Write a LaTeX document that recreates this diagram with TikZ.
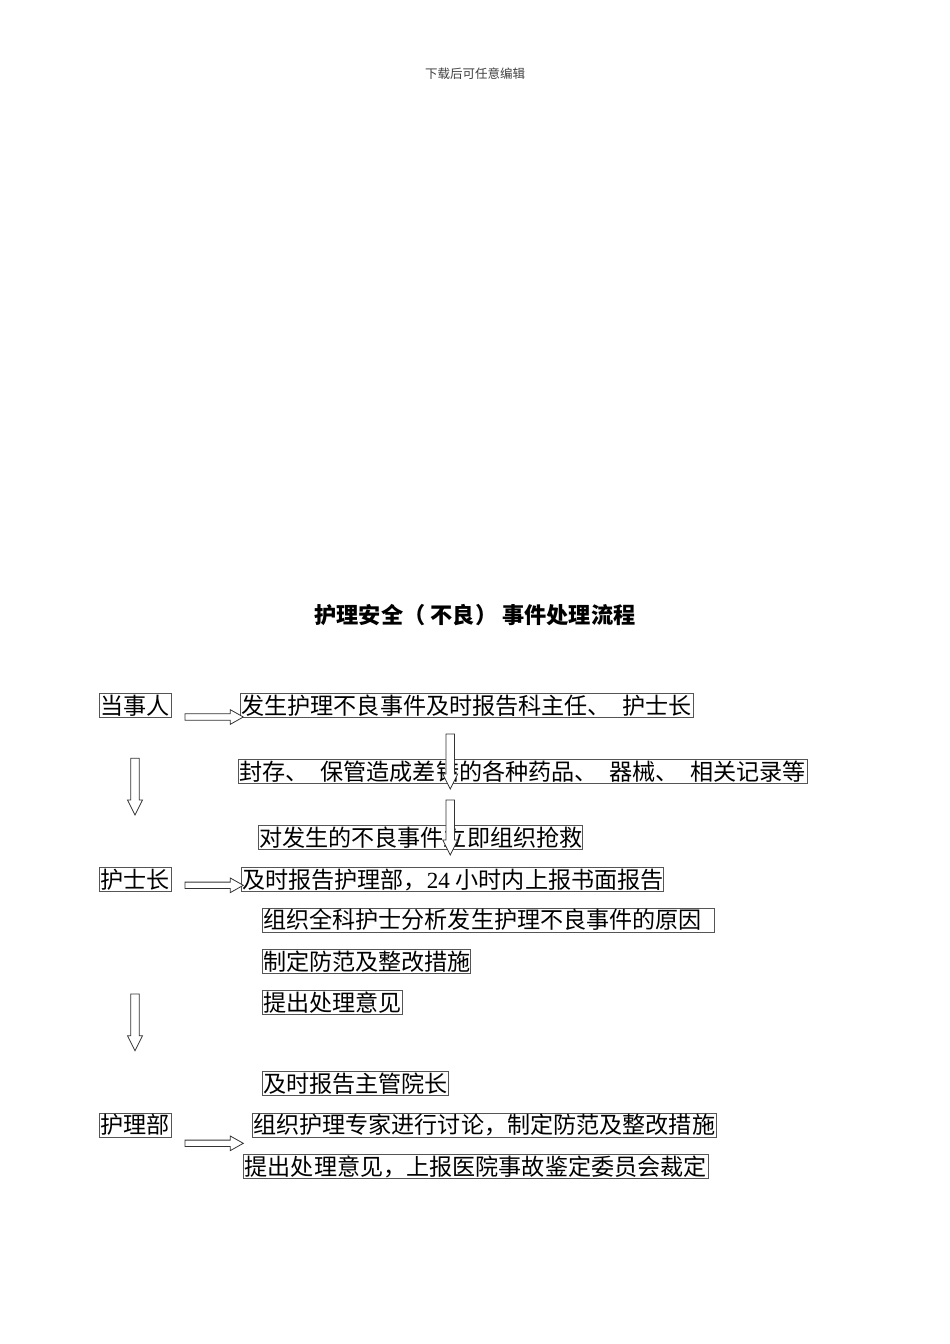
\documentclass[tikz,border=0pt]{standalone}
\usepackage{fontspec}
\newfontfamily\cjk{Noto Sans CJK SC}
\newfontfamily\lat{Liberation Serif}
\usetikzlibrary{calc}
\definecolor{boxgray}{HTML}{555555}
\definecolor{arrgray}{HTML}{333333}
\newcommand\bxt[2]{\makebox[#1pt][l]{#2}}
% horizontal block arrow: #1 start coord, #2 tip coord
\newcommand\harr[2]{%
  \draw[barrow] let \p1=(#1), \p2=(#2) in
    (\x1,\y1+3.2pt) -- (\x2-13pt,\y1+3.2pt) -- (\x2-13pt,\y1+7.3pt) -- (\x2,\y1)
    -- (\x2-13pt,\y1-7.3pt) -- (\x2-13pt,\y1-3.2pt) -- (\x1,\y1-3.2pt) -- cycle;}
% vertical block arrow: #1 top coord, #2 tip coord
\newcommand\varr[2]{%
  \draw[barrow] let \p1=(#1), \p2=(#2) in
    (\x1-4.3pt,\y1) -- (\x1-4.3pt,\y2+15pt) -- (\x1-7.5pt,\y2+15pt) -- (\x1,\y2)
    -- (\x1+7.5pt,\y2+15pt) -- (\x1+4.3pt,\y2+15pt) -- (\x1+4.3pt,\y1) -- cycle;}
\begin{document}
\begin{tikzpicture}[x=1pt,y=-1pt,
  box/.style={draw=boxgray, line width=0.8pt, anchor=north west,
    inner xsep=1pt, inner ysep=0pt, minimum height=24pt,
    text height=20.3pt, text depth=2.8pt,
    font=\cjk\fontsize{23.1}{23.1}\selectfont},
  barrow/.style={draw=arrgray, line width=0.8pt, fill=white, line join=miter}]
\fill[white] (0,0) rectangle (950,1344);
\useasboundingbox (0,0) rectangle (950,1344);

\node[text=black!75, font=\cjk\fontsize{12.5}{12.5}\selectfont] (hdr) at (475,74) {下载后可任意编辑};
\node[font=\cjk\bfseries\fontsize{22.2}{22.2}\selectfont] (title) at (475,615) {护理安全（ 不良） 事件处理流程};

\node[box] (n1) at (99.3,693.3) {\bxt{69.4}{当事人}};
\node[box] (n2) at (240,693.3) {\bxt{450.7}{发生护理不良事件及时报告科主任、\hspace{0.5em}护士长}};
\node[box] (n3) at (238.3,759.3) {\bxt{566.4}{封存、\hspace{0.5em}保管造成差错的各种药品、\hspace{0.5em}器械、\hspace{0.5em}相关记录等}};
\node[box] (n4) at (257.7,825) {\bxt{322.6}{对发生的不良事件立即组织抢救}};
\node[box] (n5) at (99.3,867.3) {\bxt{69.4}{护士长}};
\node[box] (n6) at (240.7,867.3) {\bxt{420}{及时报告护理部，{\lat 24 }小时内上报书面报告}};
\node[box] (n7) at (261.7,907.7) {\bxt{450.3}{组织全科护士分析发生护理不良事件的原因}};
\node[box] (n8) at (261.7,949.3) {\bxt{206.3}{制定防范及整改措施}};
\node[box] (n9) at (261.7,990) {\bxt{138}{提出处理意见}};
\node[box] (n10) at (261.7,1071) {\bxt{184.6}{及时报告主管院长}};
\node[box] (n11) at (99.3,1112.7) {\bxt{69.4}{护理部}};
\node[box] (n12) at (251.7,1112.7) {\bxt{462.3}{组织护理专家进行讨论，制定防范及整改措施}};
\node[box] (n13) at (243.3,1154) {\bxt{462.7}{提出处理意见，上报医院事故鉴定委员会裁定}};

% arrow end points
\coordinate (h1a) at (185,717);    \coordinate (h1b) at (243.3,717);
\coordinate (h2a) at (185,885.3);  \coordinate (h2b) at (243.3,885.3);
\coordinate (h3a) at (185,1143.3); \coordinate (h3b) at (243.3,1143.3);
\coordinate (v1a) at (135,758.3);  \coordinate (v1b) at (135,815);
\coordinate (v2a) at (135,994);    \coordinate (v2b) at (135,1050.7);
\coordinate (v3a) at (450.2,734);  \coordinate (v3b) at (450.2,789);
\coordinate (v4a) at (450.2,800);  \coordinate (v4b) at (450.2,855);

\harr{h1a}{h1b}
\harr{h2a}{h2b}
\harr{h3a}{h3b}
\varr{v1a}{v1b}
\varr{v2a}{v2b}
\varr{v3a}{v3b}
\varr{v4a}{v4b}
\end{tikzpicture}
\end{document}
